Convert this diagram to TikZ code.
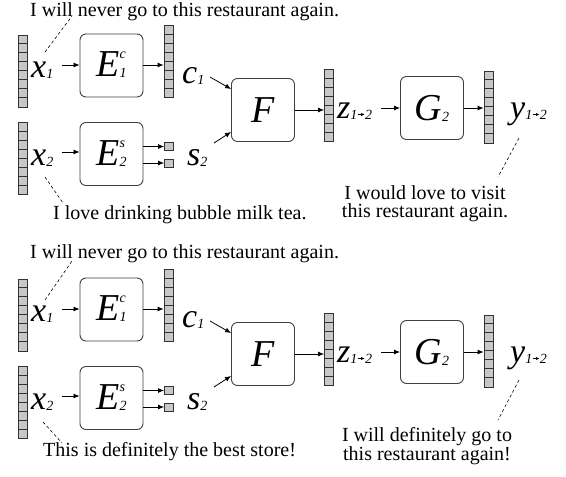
\documentclass[tikz,border=0pt]{standalone}
\usepackage{fontspec}
\setmainfont{Liberation Serif}
\usetikzlibrary{arrows.meta}
\newcommand{\sentsize}{\fontsize{20}{18}\selectfont}
\newcommand{\lblsize}{\fontsize{34}{34}\selectfont}
\newcommand{\boxsize}{\fontsize{38}{38}\selectfont}
\newcommand{\subsize}{\fontsize{14}{14}\selectfont}
\newcommand{\lbl}[2]{{\lblsize\itshape #1}\raisebox{-1pt}{\subsize\itshape #2}}
\newcommand{\arrsub}{\raisebox{3pt}{\tikz\draw[-{Latex[length=3.5pt,width=3pt]},line width=0.6pt](0,0)--(7pt,0);}}
\newcommand{\Ebox}[2]{{\boxsize\itshape E}\raisebox{-1pt}{\subsize\itshape\begin{tabular}[b]{@{}l@{}}#1\\[5pt]#2\end{tabular}}}
\newcommand{\vbar}[3]{%
  \node[vecbar] (#1) at (#2,#3) {};
  \foreach \i in {1,...,7} \draw[cellline] ([yshift=-\i*9pt]#1.north west) -- ([yshift=-\i*9pt]#1.north east);}
\tikzset{
  vecbar/.style={draw=black!80, fill=black!22, minimum width=9pt, minimum height=72pt, inner sep=0pt, line width=0.8pt},
  cellline/.style={draw=black!80, line width=0.7pt},
  sq/.style={draw=black!80, fill=black!22, minimum width=9pt, minimum height=8pt, inner sep=0pt, line width=0.8pt},
  blk/.style={draw=black!75, rounded corners=6pt, minimum width=63pt, minimum height=63pt, inner sep=0pt, line width=0.9pt},
  arr/.style={-{Latex[length=6pt,width=5pt]}, line width=0.8pt},
  dsh/.style={dashed, dash pattern=on 3pt off 2.5pt, line width=0.6pt},
  sent/.style={inner sep=0pt, font=\sentsize},
  lb/.style={inner sep=0pt, anchor=base west}
}
\newcommand{\panel}[2]{%
\begin{scope}[shift={(0,#1)}]
  \vbar{x1v#2}{22.5}{71}
  \node[lb] (x1l#2) at (31,77) {\lbl{x}{1}};
  \node[blk] (E1#2) at (111.5,65.5) {\Ebox{c}{1}};
  \vbar{c1v#2}{168.5}{61.5}
  \node[lb] (c1l#2) at (182,83) {\lbl{c}{1}};
  \node[blk] (F#2) at (263,110) {\boxsize\itshape F};
  \vbar{x2v#2}{22.5}{158.5}
  \node[lb] (x2l#2) at (31,165) {\lbl{x}{2}};
  \node[blk] (E2#2) at (111.5,154) {\Ebox{s}{2}};
  \node[sq] (sa#2) at (169,146.5) {};
  \node[sq] (sb#2) at (169,163) {};
  \node[lb] (s2l#2) at (187,165) {\lbl{s}{2}};
  \vbar{zv#2}{329}{105.5}
  \node[lb] (zl#2) at (337,118) {\lbl{z}{1\arrsub2}};
  \node[blk] (G#2) at (432,108) {{\boxsize\itshape G}\raisebox{-1pt}{\subsize\itshape 2}};
  \vbar{yv#2}{488.5}{107}
  \node[lb] (yl#2) at (510,118) {\lbl{y}{1\arrsub2}};
  \coordinate (xa#2) at (62,65);
  \coordinate (xb#2) at (62,152);
  \coordinate (ca#2) at (210,77);
  \coordinate (sc#2) at (214,143);
  \coordinate (za#2) at (381,108);
  \draw[arr] (xa#2) -- (xa#2 -| E1#2.west);
  \draw[arr] (E1#2.east |- xa#2) -- (xa#2 -| c1v#2.west);
  \draw[arr] (xb#2) -- (xb#2 -| E2#2.west);
  \draw[arr] (E2#2.east |- sa#2) -- (sa#2.west);
  \draw[arr] (E2#2.east |- sb#2) -- (sb#2.west);
  \draw[arr] (ca#2) -- ([yshift=21pt]F#2.west);
  \draw[arr] (sc#2) -- ([yshift=-22pt]F#2.west);
  \draw[arr] (F#2.east) -- (F#2.east -| zv#2.west);
  \draw[arr] (za#2) -- (za#2 -| G#2.west);
  \draw[arr] (G#2.east) -- (G#2.east -| yv#2.west);
\end{scope}}
\begin{document}
\begin{tikzpicture}[x=1pt,y=-1pt]
\useasboundingbox[fill=white] (0,0) rectangle (566,477);
\panel{0}{a}
\panel{244}{b}
% top panel texts
\node[sent, anchor=base west] (t1) at (30,16.5) {I will never go to this restaurant again.};
\node[sent, anchor=base west] (t2) at (53,219) {I love drinking bubble milk tea.};
\node[sent, align=center] (t3) at (425,204) {I would love to visit\\this restaurant again.};
\coordinate (d1a) at (45,52); \coordinate (d1b) at (72,16);
\coordinate (d2a) at (45,177); \coordinate (d2b) at (63,203);
\coordinate (d3a) at (519,138); \coordinate (d3b) at (498,177);
\draw[dsh] (d1a) -- (d1b);
\draw[dsh] (d2a) -- (d2b);
\draw[dsh] (d3a) -- (d3b);
% bottom panel texts
\node[sent, anchor=base west] (b1) at (30,258) {I will never go to this restaurant again.};
\node[sent, anchor=base west] (b2) at (43,456) {This is definitely the best store!};
\node[sent, align=center] (b3) at (427,446) {I will definitely go to\\this restaurant again!};
\coordinate (e1a) at (45,300); \coordinate (e1b) at (72,261);
\coordinate (e2a) at (43,422); \coordinate (e2b) at (62,443);
\coordinate (e3a) at (519,380); \coordinate (e3b) at (498,420);
\draw[dsh] (e1a) -- (e1b);
\draw[dsh] (e2a) -- (e2b);
\draw[dsh] (e3a) -- (e3b);
\end{tikzpicture}
\end{document}
